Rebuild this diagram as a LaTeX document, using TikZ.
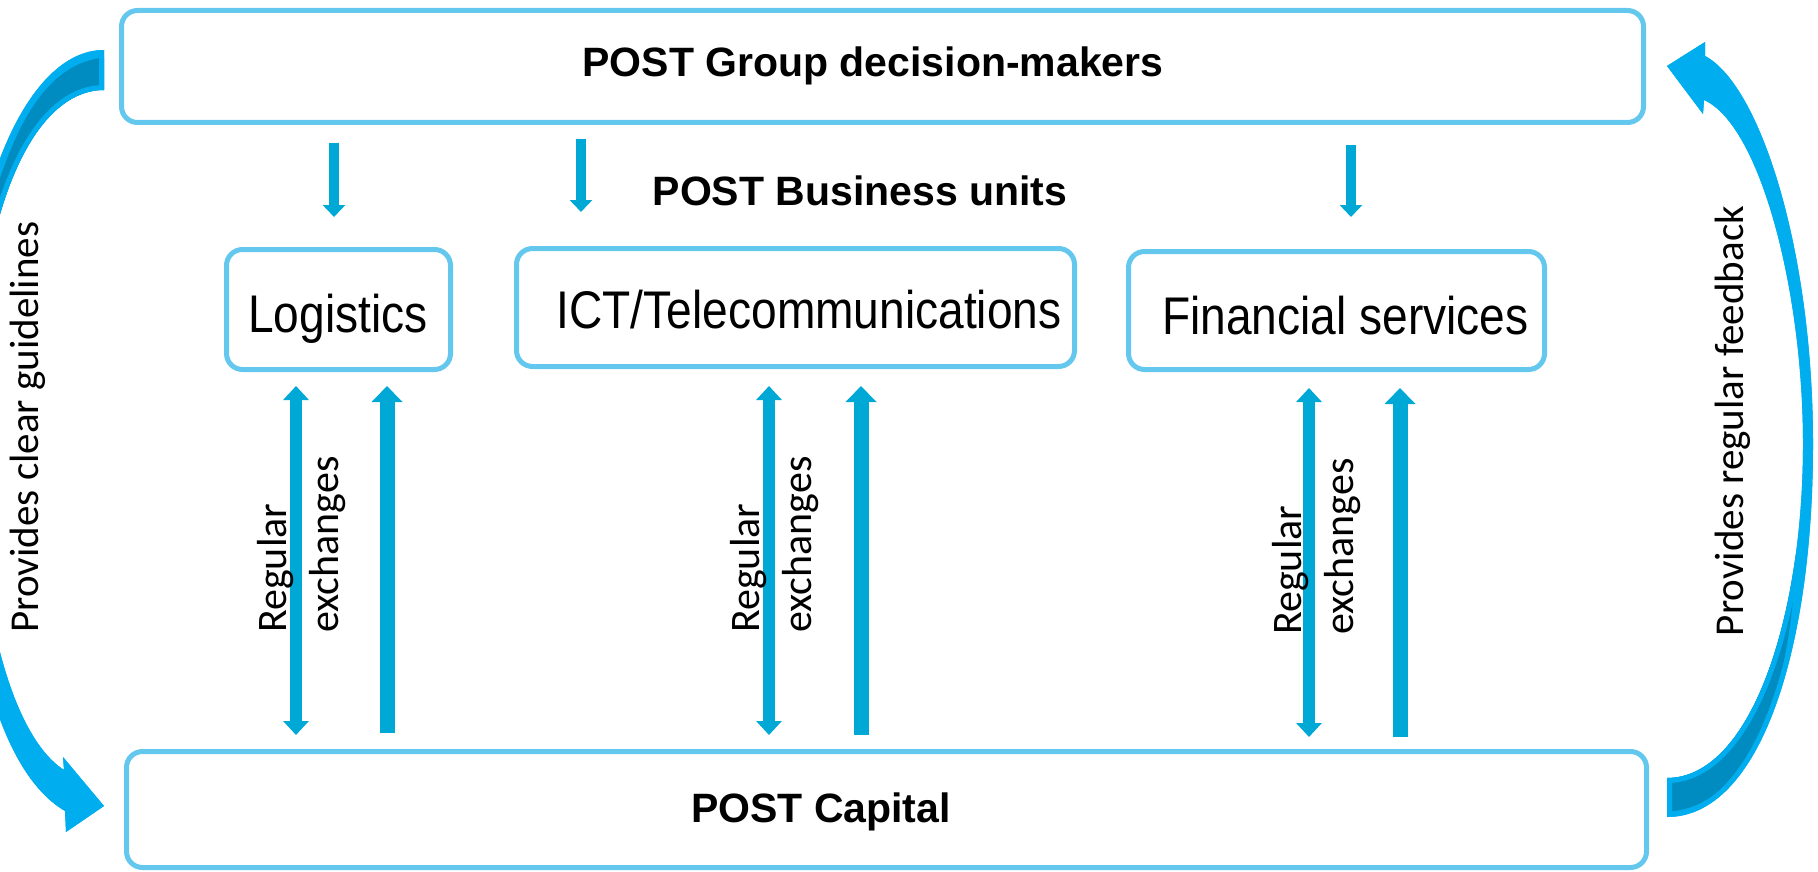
\documentclass[tikz,border=0pt]{standalone}
\usepackage{fontspec}
\usepackage{graphicx}
\setmainfont{Liberation Sans}
\newfontfamily\calibfont{Carlito}
\usetikzlibrary{arrows.meta}

\definecolor{boxblue}{RGB}{100,199,238}
\definecolor{arrblue}{RGB}{0,168,214}
\definecolor{bendblue}{RGB}{0,174,239}
\definecolor{benddark}{RGB}{0,140,192}

\newcommand{\squeezed}[1]{\scalebox{0.87}[1]{#1}}
% outlines of the two bent arrows
\newcommand{\guidebend}{(104,50) .. controls (25,50) and (-40,200) .. (-40,420)
  .. controls (-40,620) and (-5,770) .. (65,811) -- (66,832) -- (104,806) -- (63,757) -- (64,770)
  .. controls (10,735) and (-25,600) .. (-25,420) .. controls (-25,220) and (30,90) .. (104,90) -- cycle}
\newcommand{\feedbend}{(1667,817) .. controls (1760,817) and (1813,650) .. (1813,444)
  .. controls (1813,250) and (1760,85) .. (1705,56) -- (1705,42) -- (1667,66) -- (1703,114) -- (1704,100)
  .. controls (1760,125) and (1803,290) .. (1803,444) .. controls (1803,620) and (1750,778) .. (1667,778) -- cycle}

\tikzset{
  unitbox/.style={draw=boxblue, line width=5pt, rounded corners=16pt, inner sep=0pt},
  headlbl/.style={font=\fontsize{41}{49}\selectfont\bfseries, anchor=base, inner sep=0pt},
  unitlbl/.style={font=\fontsize{53}{60}\selectfont, anchor=base, inner sep=0pt},
  sidelbl/.style={font=\calibfont\fontsize{41}{49}\selectfont, rotate=90, inner sep=0pt},
  xchglbl/.style={font=\calibfont\fontsize{42}{52}\selectfont, rotate=90, align=left, anchor=west, inner sep=0pt},
  downarr/.style={draw=arrblue, line width=10pt, -{Triangle[width=22pt,length=12pt]}},
  xchgarr/.style={draw=arrblue, line width=12pt, {Triangle[width=25pt,length=14pt]}-{Triangle[width=25pt,length=14pt]}},
  uparr/.style={draw=arrblue, line width=15pt, -{Triangle[width=30pt,length=16pt]}},
}

\begin{document}
\begin{tikzpicture}[x=1pt, y=-1pt]
\useasboundingbox (0,0) rectangle (1818,872);
\clip (0,0) rectangle (1818,872);

% bent arrows at the sides
\begin{scope}
  \clip \guidebend;
  \fill[bendblue] (-60,0) rectangle (130,872);
  \fill[benddark] (110,57) .. controls (40,60) and (0,140) .. (-30,300) -- (200,300) -- (200,57) -- cycle;
  \draw[bendblue, line width=10pt] \guidebend;
\end{scope}
\begin{scope}
  \clip \feedbend;
  \fill[bendblue] (1640,0) rectangle (1818,872);
  \fill[benddark] (1660,812) .. controls (1750,812) and (1790,700) .. (1796,555) -- (1600,555) -- (1600,812) -- cycle;
  \draw[bendblue, line width=10pt] \feedbend;
\end{scope}
\node[sidelbl] (guide) at (28,427) {Provides clear guidelines};
\node[sidelbl] (feedback) at (1733,421) {Provides regular feedback};

% boxes
\node[unitbox, minimum width=1522pt, minimum height=112pt] (grp) at (882.5,66.5) {};
\node[unitbox, minimum width=1520pt, minimum height=116pt] (cap) at (886.5,809.5) {};
\node[unitbox, minimum width=224pt, minimum height=120pt] (log) at (338.5,309.5) {};
\node[unitbox, minimum width=558pt, minimum height=118pt] (ict) at (795.5,307.5) {};
\node[unitbox, minimum width=416pt, minimum height=118pt] (fin) at (1336.5,310.5) {};

\node[headlbl] (grplbl) at (873,77) {POST Group decision-makers};
\node[headlbl] (unitslbl) at (860,205) {POST Business units};
\node[headlbl] (caplbl) at (821,822) {POST Capital};
\node[unitlbl] (loglbl) at (338,332) {\squeezed{Logistics}};
\node[unitlbl] (ictlbl) at (809,328) {\squeezed{ICT/Telecommunications}};
\node[unitlbl] (finlbl) at (1345.5,334) {\squeezed{Financial services}};

% from the group down to the units
\draw[downarr, shorten <=18pt, shorten >=30pt] (334,0 |- grp.south) -- (334,0 |- log.north);
\draw[downarr, shorten <=14pt, shorten >=34pt] (581,0 |- grp.south) -- (581,0 |- ict.north);
\draw[downarr, shorten <=20pt, shorten >=32pt] (1351,0 |- grp.south) -- (1351,0 |- fin.north);

% units and capital
\draw[xchgarr, shorten <=14pt, shorten >=14pt] (296,0 |- log.south) -- (296,0 |- cap.north);
\draw[uparr, shorten <=16pt, shorten >=14pt] (387,0 |- cap.north) -- (387,0 |- log.south);
\draw[xchgarr, shorten <=17pt, shorten >=14pt] (769,0 |- ict.south) -- (769,0 |- cap.north);
\draw[uparr, shorten <=14pt, shorten >=17pt] (861,0 |- cap.north) -- (861,0 |- ict.south);
\draw[xchgarr, shorten <=16pt, shorten >=12pt] (1309,0 |- fin.south) -- (1309,0 |- cap.north);
\draw[uparr, shorten <=12pt, shorten >=16pt] (1400,0 |- cap.north) -- (1400,0 |- fin.south);

\node[xchglbl] (logx) at (302,633) {Regular\\exchanges};
\node[xchglbl] (ictx) at (775,633) {Regular\\exchanges};
\node[xchglbl] (finx) at (1317,635) {Regular\\exchanges};
\end{tikzpicture}
\end{document}
